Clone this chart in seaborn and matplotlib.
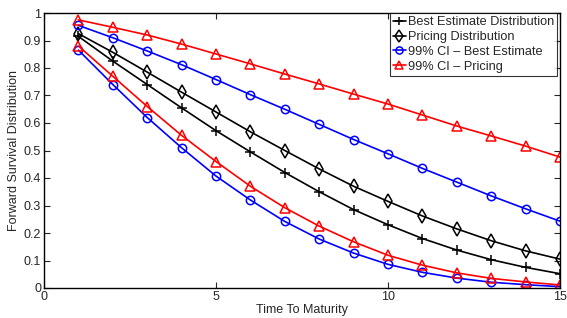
import matplotlib
matplotlib.use("Agg")
import matplotlib.pyplot as plt
import seaborn as sns
import numpy as np

sns.set_style("white")
plt.rcParams['font.family'] = ['Liberation Sans', 'DejaVu Sans']

maturity = list(range(1, 16))
best_estimate = [0.915, 0.825, 0.74, 0.655, 0.572, 0.495, 0.42, 0.35, 0.285, 0.23, 0.18, 0.138, 0.103, 0.075, 0.052]
pricing = [0.925, 0.857, 0.785, 0.712, 0.64, 0.568, 0.5, 0.433, 0.37, 0.315, 0.262, 0.215, 0.172, 0.135, 0.105]
ci_best_upper = [0.955, 0.91, 0.862, 0.812, 0.758, 0.703, 0.65, 0.595, 0.54, 0.488, 0.435, 0.385, 0.335, 0.288, 0.243]
ci_best_lower = [0.865, 0.74, 0.62, 0.51, 0.407, 0.32, 0.242, 0.178, 0.127, 0.086, 0.057, 0.036, 0.021, 0.012, 0.005]
ci_pricing_upper = [0.975, 0.948, 0.92, 0.887, 0.851, 0.815, 0.778, 0.742, 0.705, 0.669, 0.629, 0.589, 0.553, 0.516, 0.476]
ci_pricing_lower = [0.88, 0.77, 0.66, 0.555, 0.46, 0.37, 0.292, 0.225, 0.168, 0.119, 0.083, 0.055, 0.035, 0.022, 0.011]

labels = ["Best Estimate Distribution", "Pricing Distribution",
          "99% CI \u2013 Best Estimate", "99% CI \u2013 Pricing"]

fig = plt.figure(figsize=(5.67, 3.18), dpi=100)
ax = fig.add_axes([44/567, 30/318, (560-44)/567, (288-13)/318])

lw = 1.2
def draw(y, color, marker, label, ms):
    kw = dict(color=color, marker=marker, markersize=ms, linewidth=lw,
              markeredgecolor=color, markeredgewidth=1.1)
    if marker != '+':
        kw['markerfacecolor'] = 'none'
    sns.lineplot(x=maturity, y=y, ax=ax, label=label, **kw)

draw(best_estimate, 'black', '+', labels[0], 7)
draw(pricing, 'black', 'd', labels[1], 7.5)
draw(ci_best_upper, 'blue', 'o', labels[2], 6)
draw(ci_best_lower, 'blue', 'o', None, 6)
draw(ci_pricing_upper, 'red', '^', labels[3], 6.5)
draw(ci_pricing_lower, 'red', '^', None, 6.5)

ax.set_xlim(0, 15)
ax.set_ylim(0, 1)
ax.set_xticks([0, 5, 10, 15])
ax.set_yticks(np.arange(0, 1.01, 0.1))
ax.set_yticklabels(["0", "0.1", "0.2", "0.3", "0.4", "0.5", "0.6", "0.7", "0.8", "0.9", "1"])
ax.tick_params(direction='in', length=4, width=0.8, top=True, right=True, labelsize=9, pad=2,
               bottom=True, left=True)
for s in ax.spines.values():
    s.set_color('black')
    s.set_linewidth(1.0)
ax.set_xlabel("Time To Maturity", fontsize=9, labelpad=1)
ax.set_ylabel("Forward Survival Distribution", fontsize=9, labelpad=3)

leg = ax.legend(loc='upper right', fontsize=9.2, handlelength=1.0, handletextpad=0.15,
                borderpad=0.25, labelspacing=0.22, frameon=True, fancybox=False,
                borderaxespad=0.0, markerscale=0.85, bbox_to_anchor=(557/567, 1.0),
                bbox_transform=fig.transFigure)
leg.set_bbox_to_anchor((557/567, (318-13)/318), transform=fig.transFigure)
leg.get_frame().set_edgecolor('black')
leg.get_frame().set_linewidth(0.8)

fig.savefig("out.png", dpi=100)
